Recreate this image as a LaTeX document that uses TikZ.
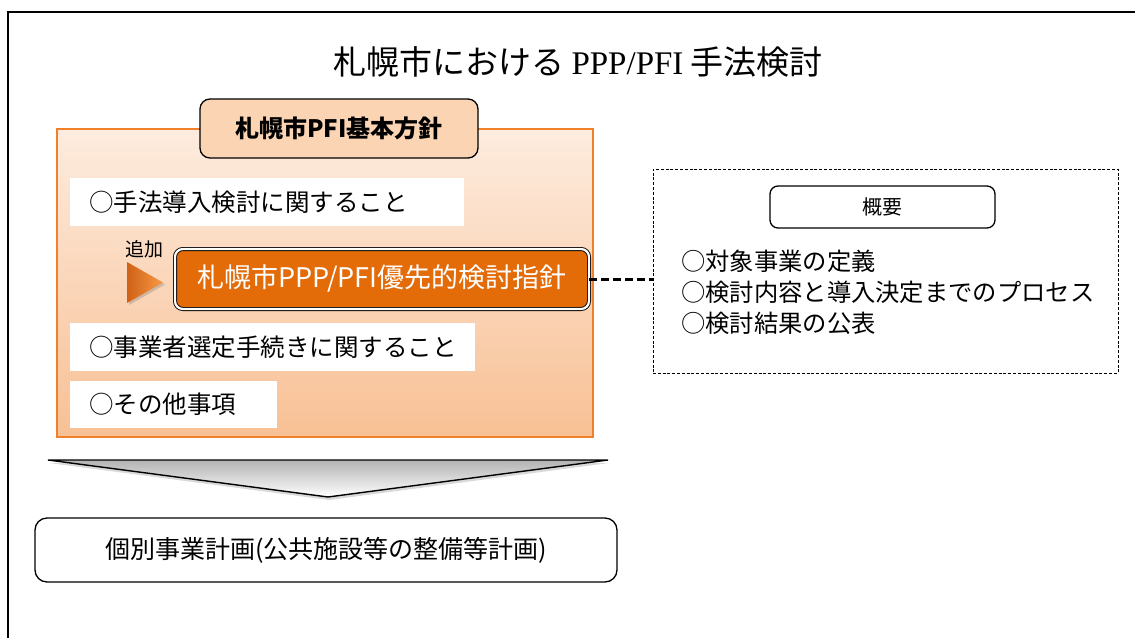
\documentclass[tikz,border=0pt]{standalone}
\usepackage{fontspec}
\setmainfont{Noto Sans CJK JP}
\newfontfamily\titleserif{Liberation Serif}
\usetikzlibrary{shadows}
\definecolor{orangeline}{HTML}{F0802A}
\definecolor{bigtop}{HTML}{FDECDF}
\definecolor{bigbot}{HTML}{F8C094}
\definecolor{headfill}{HTML}{FBD4B4}
\definecolor{mainfill}{HTML}{E36C09}
\definecolor{tridark}{HTML}{CF6117}
\definecolor{trilight}{HTML}{F89A45}
\newcommand\fsz[1]{\fontsize{#1pt}{#1pt}\selectfont}
\tikzset{
  bigbox/.style={draw=orangeline, line width=1.5pt, top color=bigtop, bottom color=bigbot, inner sep=0pt},
  headbox/.style={draw=black, line width=1.3pt, fill=headfill, rounded corners=10pt, inner sep=0pt, font=\fsz{24}\bfseries},
  wbox/.style={fill=white, inner xsep=19pt, inner ysep=0pt, align=left, font=\fsz{24.5}},
  mainbox/.style={draw=black, line width=0.9pt, double=white, double distance=2.2pt, fill=mainfill, rounded corners=8pt, inner sep=0pt, text=white, font=\fsz{27}},
  plainbox/.style={draw=black, line width=1.3pt, fill=white, rounded corners=12pt, inner sep=0pt},
  dbox/.style={draw=black, line width=1pt, dash pattern=on 3pt off 1.8pt, inner sep=0pt},
  link/.style={draw=black, line width=3pt, dash pattern=on 8pt off 4pt},
}
\begin{document}
\begin{tikzpicture}[x=1pt, y=-1pt]
\useasboundingbox (0,0) rectangle (1135,638);
% outer frame
\draw[line width=2.5pt] (8,638) -- (8,12) -- (1135,12);
% title
\node (title) at (578,62) {\fsz{33}札幌市における {\titleserif PPP/PFI} 手法検討};
% big policy box
\node[bigbox, minimum width=536pt, minimum height=308pt] (pol) at (325,283) {};
\node[headbox, minimum width=278pt, minimum height=59pt] (head) at (339,128.5) {札幌市PFI基本方針};
\node[wbox, text width=356pt, minimum height=48pt] (w1) at (267,202) {○手法導入検討に関すること};
\node[wbox, text width=367pt, minimum height=48pt] (w2) at (272.5,347) {○事業者選定手続きに関すること};
\node[wbox, text width=169pt, minimum height=47pt] (w3) at (173.5,404.5) {○その他事項};
% added item
\node[font=\fsz{19}] (add) at (144,249) {追加};
\path[drop shadow={opacity=0.35, shadow xshift=2pt, shadow yshift=-2pt}, left color=tridark, right color=trilight] (127,262) -- (163,282.5) -- (127,303) -- cycle;
\node[mainbox, minimum width=414pt, minimum height=60pt] (main) at (382,279) {札幌市PPP/PFI優先的検討指針};
% overview box
\node[dbox, minimum width=465pt, minimum height=204pt] (ov) at (885.5,271) {};
\node[plainbox, rounded corners=8pt, minimum width=225pt, minimum height=42pt, font=\fsz{20}] (ovh) at (882.5,207) {概要};
\node[anchor=west, align=left, font=\fontsize{24.3pt}{31pt}\selectfont, inner sep=0pt] (ovl) at (681,292) {○対象事業の定義\\○検討内容と導入決定までのプロセス\\○検討結果の公表};
\draw[link] (main.east) -- (main.east -| ov.west);
% chevron arrow
\path[drop shadow={opacity=0.3, shadow xshift=1pt, shadow yshift=-3pt}, top color=black!30, bottom color=white, draw=black, line width=1.4pt, line join=miter] (48,460) -- (608,460) -- (328,497) -- cycle;
% result box
\node[plainbox, minimum width=582pt, minimum height=64pt, font=\fsz{25}] (res) at (326,550) {個別事業計画(公共施設等の整備等計画)};
\end{tikzpicture}
\end{document}
